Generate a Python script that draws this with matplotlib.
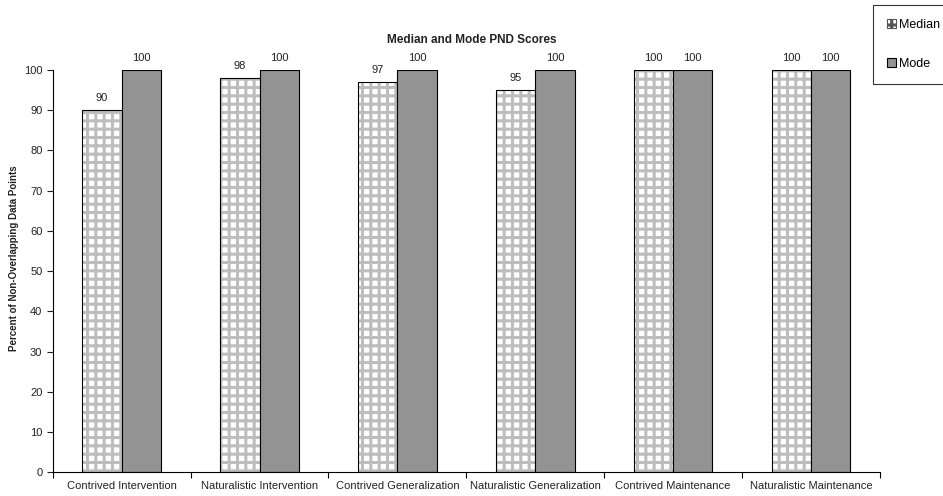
import matplotlib
matplotlib.use("Agg")
import matplotlib.pyplot as plt
import numpy as np
from matplotlib.patches import Patch

categories = ["Contrived Intervention", "Naturalistic Intervention",
              "Contrived Generalization", "Naturalistic Generalization",
              "Contrived Maintenance", "Naturalistic Maintenance"]
median_scores = [90, 98, 97, 95, 100, 100]
mode_scores = [100, 100, 100, 100, 100, 100]

plt.rcParams["font.family"] = ["Liberation Sans", "DejaVu Sans"]
plt.rcParams["hatch.linewidth"] = 2.2

GRID_GRAY = "#bdbdbd"
MODE_GRAY = "#939393"
TXT = "#222222"

fig = plt.figure(figsize=(9.43, 4.96), dpi=100)
ax = fig.add_axes([0.056, 0.048, 0.877, 0.811])

x = np.arange(len(categories))
w = 0.285
# median bars: grey grid hatch first, then a black outline on top
ax.bar(x - w / 2, median_scores, w, facecolor="white", edgecolor=GRID_GRAY,
       linewidth=0, hatch="++")
ax.bar(x - w / 2, median_scores, w, fill=False, edgecolor="black", linewidth=0.8)
ax.bar(x + w / 2, mode_scores, w, facecolor=MODE_GRAY, edgecolor="black",
       linewidth=0.8)

for xi, v in zip(x - w / 2, median_scores):
    ax.text(xi, v + 1.8, f"{v}", ha="center", va="bottom", fontsize=8, color=TXT)
for xi, v in zip(x + w / 2, mode_scores):
    ax.text(xi, v + 1.8, f"{v}", ha="center", va="bottom", fontsize=8, color=TXT)

ax.set_xlim(-0.5, len(categories) - 0.5)
ax.set_ylim(0, 100)
ax.set_yticks(range(0, 101, 10))
ax.tick_params(axis="y", labelsize=8, length=4, width=0.8, colors=TXT)
ax.set_xticks(np.arange(-0.5, len(categories), 1.0))
ax.set_xticklabels([])
ax.set_xticks(x, minor=True)
ax.set_xticklabels(categories, minor=True)
ax.tick_params(axis="x", which="major", length=4, width=0.8)
ax.tick_params(axis="x", which="minor", length=0, labelsize=8, pad=6, colors=TXT)

for s in ("top", "right"):
    ax.spines[s].set_visible(False)
ax.spines["left"].set_linewidth(0.8)
ax.spines["bottom"].set_linewidth(0.8)

fig.text(0.015, 0.48, "Percent of Non-Overlapping Data Points", rotation=90,
         ha="center", va="center", fontsize=7, fontweight="bold", color=TXT)
fig.text(0.5, 0.92, "Median and Mode PND Scores", ha="center", va="center",
         fontsize=8.5, fontweight="bold", color=TXT)

handles = [Patch(facecolor="white", edgecolor="#555555", hatch="+", linewidth=0.8),
           Patch(facecolor=MODE_GRAY, edgecolor="black", linewidth=0.8)]
leg = fig.legend(handles, ["Median", "Mode"], loc="upper left",
                 bbox_to_anchor=(0.926, 0.99), frameon=True, fancybox=False,
                 fontsize=9, handlelength=0.75, handleheight=0.75, handletextpad=0.2,
                 labelspacing=2.2, borderpad=1.1, borderaxespad=0)
leg.get_frame().set_edgecolor("black")
leg.get_frame().set_linewidth(0.8)

fig.savefig("out.png", dpi=100)
